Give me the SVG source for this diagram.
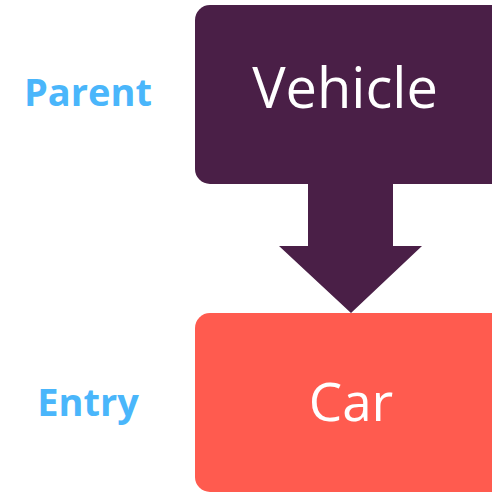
<svg xmlns="http://www.w3.org/2000/svg" width="492" height="492" viewBox="0 0 492 492">
<style>
.lbl{font-family:"Open Sans","Liberation Sans",sans-serif;font-weight:bold;font-size:38px;fill:#4AB6FB;text-anchor:middle}
.ntxt{font-family:"Open Sans","Liberation Sans",sans-serif;font-size:53px;fill:#ffffff;text-anchor:middle}
</style>
<rect width="492" height="492" fill="#ffffff"/>
<g id="label-parent"><text class="lbl" x="88" y="106">Parent</text></g>
<g id="label-entry"><text class="lbl" x="88" y="416">Entry</text></g>
<g id="node-vehicle">
<rect x="195" y="5" width="320" height="179" rx="15" fill="#4A1F47"/>
<text class="ntxt" x="345" y="108" style="font-size:56px">Vehicle</text>
</g>
<g id="connectors">
<polygon points="308,184 393,184 393,246 422,246 351,313 279,246 308,246" fill="#4A1F47"/>
</g>
<g id="node-car">
<rect x="195" y="313" width="320" height="179" rx="15" fill="#FF5B4F"/>
<text class="ntxt" x="351" y="421">Car</text>
</g>
</svg>
